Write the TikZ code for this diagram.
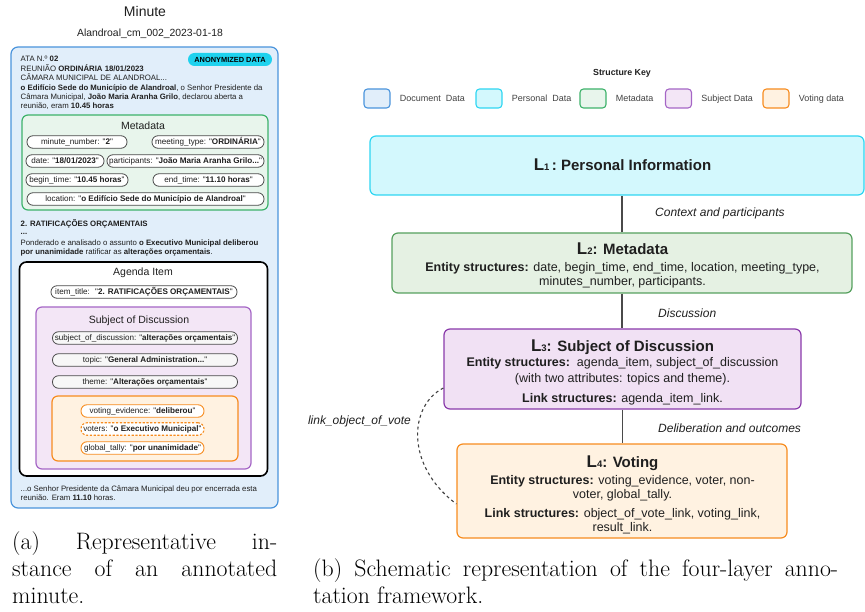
\documentclass[tikz,border=0pt]{standalone}
\usepackage{fontspec}
\newfontfamily\uisans{Liberation Sans}
\usetikzlibrary{calc,positioning}

\definecolor{docfill}{HTML}{E1EEFA}
\definecolor{docline}{HTML}{4A94DC}
\definecolor{perfill}{HTML}{D3F8FD}
\definecolor{perline}{HTML}{2ED6F2}
\definecolor{badgefill}{HTML}{1FD2EE}
\definecolor{metafill}{HTML}{E8F5EC}
\definecolor{metaline}{HTML}{3DB26A}
\definecolor{ltwofill}{HTML}{E5F1E3}
\definecolor{ltwoline}{HTML}{56A05E}
\definecolor{subjfill}{HTML}{F3E6F6}
\definecolor{subjline}{HTML}{A566C6}
\definecolor{lthreefill}{HTML}{F1E1F4}
\definecolor{lthreeline}{HTML}{8A3AAB}
\definecolor{votefill}{HTML}{FFF2E1}
\definecolor{voteline}{HTML}{F78C1F}
\definecolor{pillline}{HTML}{4A4A4A}
\definecolor{pillfill}{HTML}{F7F7F7}
\definecolor{inkcol}{HTML}{1F1F1F}

\newcommand{\fsz}[1]{\fontsize{#1}{#1}\selectfont}
\newcommand{\lnum}[1]{{\fsz{17}L}{\fsz{9.5}#1}}

\tikzset{
  box/.style={draw, rounded corners=6pt, line width=1.2pt, inner sep=0pt},
  keybox/.style={draw, rounded corners=3.5pt, line width=1.1pt, minimum width=26pt, minimum height=19pt},
  keylab/.style={font=\uisans\fsz{9}, text=inkcol!85, inner sep=0pt, anchor=west, text height=6.5pt, text depth=0pt},
  small/.style={font=\uisans\fsz{7.8}, text=inkcol, anchor=base west, inner sep=0pt},
  head/.style={font=\uisans\fsz{10.5}, text=inkcol, anchor=base, inner sep=0pt},
  pill/.style={draw=pillline, fill=pillfill, line width=0.8pt, rounded corners=6pt, minimum height=12.5pt,
    inner sep=0pt, text height=5.9pt, text depth=1.4pt, text=inkcol, font=\uisans\fsz{8.1}},
  votepill/.style={pill, draw=voteline, fill=white, line width=0.9pt},
  ltitle/.style={font=\uisans\bfseries\fsz{15}, text=inkcol, anchor=base, inner sep=0pt},
  lbody/.style={font=\uisans\fsz{12.5}, text=inkcol, anchor=base, inner sep=0pt},
  edgelab/.style={font=\uisans\itshape\fsz{12}, text=inkcol, anchor=base west, inner sep=0pt},
  capline/.style={font=\fsz{23.8}, anchor=base west, inner sep=0pt},
  conn/.style={draw=pillline, line width=1.2pt},
  linkvote/.style={draw=inkcol!85, line width=1.1pt, dash pattern=on 3pt off 3pt}
}

\begin{document}
\begin{tikzpicture}[x=1pt,y=-1pt]
\useasboundingbox (0,0) rectangle (865,612);

% (a) annotated minute
\node[head, font=\uisans\fsz{14}] (mtitle) at (145,17) {Minute};
\node[head, font=\uisans\fsz{10.4}] (mfile) at (150,37) {Alandroal\_cm\_002\_2023-01-18};

\node[box, draw=docline, fill=docfill, rounded corners=7pt, minimum width=267pt, minimum height=461pt] (doc) at (144.5,277.5) {};
\node[fill=badgefill, rounded corners=6.5pt, minimum width=84pt, minimum height=13pt, inner sep=0pt,
  font=\uisans\bfseries\fsz{7.4}, text height=5.3pt, text depth=0pt] (anon) at (230,59.5) {ANONYMIZED DATA};

\node[small] (ata) at (20.5,62) {ATA N.º \textbf{02}};
\node[small] (reun) at (20.5,71.5) {REUNIÃO \textbf{ORDINÁRIA 18/01/2023}};
\node[small] (cam) at (20.5,81) {CÂMARA MUNICIPAL DE ALANDROAL...};
\node[small] (par1) at (20.5,90.3) {\textbf{o Edifício Sede do Município de Alandroal}, o Senhor Presidente da};
\node[small] (par2) at (20.5,99.5) {Câmara Municipal, \textbf{João Maria Aranha Grilo}, declarou aberta a};
\node[small] (par3) at (20.5,108.6) {reunião, eram \textbf{10.45 horas}};

\node[box, draw=metaline, fill=metafill, minimum width=246pt, minimum height=95pt] (meta) at (145,162.5) {};
\node[head] (metattl) at (143,129.8) {Metadata};
\node[pill, fill=white, minimum width=100pt] (pnum) at (77,142) {minute\_number: "\textbf{2}"};
\node[pill, fill=white, minimum width=112pt] (ptype) at (208,142) {meeting\_type: "\textbf{ORDINÁRIA}"};
\node[pill, fill=white, minimum width=78pt] (pdate) at (65,161) {date: "\textbf{18/01/2023}"};
\node[pill, fill=white, minimum width=157pt] (ppart) at (185.5,161) {participants: "\textbf{João Maria Aranha Grilo...}"};
\node[pill, fill=white, minimum width=102pt] (pbegin) at (77,180) {begin\_time: "\textbf{10.45 horas}"};
\node[pill, fill=white, minimum width=111pt] (pend) at (208.5,180) {end\_time: "\textbf{11.10 horas}"};
\node[pill, fill=white, minimum width=237pt] (ploc) at (145.5,199) {location: "\textbf{o Edifício Sede do Município de Alandroal}"};

\node[small] (ratif) at (20.5,226.5) {\textbf{2. RATIFICAÇÕES ORÇAMENTAIS}};
\node[small] (dots) at (20.5,234.5) {\textbf{...}};
\node[small] (pond1) at (20.5,245.5) {Ponderado e analisado o assunto \textbf{o Executivo Municipal deliberou}};
\node[small] (pond2) at (20.5,254.5) {\textbf{por unanimidade} ratificar as \textbf{alterações orçamentais}.};

\node[box, draw=black, fill=white, line width=1.6pt, rounded corners=7pt, minimum width=248pt, minimum height=214pt] (agenda) at (143.5,369) {};
\node[head] (agendattl) at (143,275.8) {Agenda Item};
\node[pill, fill=white, minimum width=186pt] (ptitle) at (144,292) {item\_title: \ "\textbf{2. RATIFICAÇÕES ORÇAMENTAIS}"};

\node[box, draw=subjline, fill=subjfill, minimum width=215pt, minimum height=162pt] (subj) at (143.5,388) {};
\node[head] (subjttl) at (139,323.8) {Subject of Discussion};
\node[pill, minimum width=185pt] (psubj) at (145,338) {subject\_of\_discussion: "\textbf{alterações orçamentais}"};
\node[pill, minimum width=185pt] (ptopic) at (145,360) {topic: "\textbf{General Administration...}"};
\node[pill, minimum width=185pt] (ptheme) at (145,382) {theme: "\textbf{Alterações orçamentais}"};

\node[box, draw=voteline, fill=votefill, minimum width=186pt, minimum height=65pt] (vote) at (145,428.5) {};
\node[votepill, minimum width=123pt] (pevid) at (142.5,411) {voting\_evidence: "\textbf{deliberou}"};
\node[votepill, dash pattern=on 2.2pt off 1.6pt, line width=1.1pt, minimum width=123pt] (pvoters) at (142.5,429) {voters: "\textbf{o Executivo Municipal}"};
\node[votepill, minimum width=123pt] (ptally) at (142.5,448) {global\_tally: "\textbf{por unanimidade}"};

\node[small] (end1) at (20.5,491.5) {...o Senhor Presidente da Câmara Municipal deu por encerrada esta};
\node[small] (end2) at (20.5,500.5) {reunião. Eram \textbf{11.10} horas.};

\node[capline] (capa1) at (12,549) {\makebox[265pt][s]{(a) Representative in-}};
\node[capline] (capa2) at (12,576) {\makebox[265pt][s]{stance of an annotated}};
\node[capline] (capa3) at (12,603) {minute.};

% (b) four layers
\node[head, font=\uisans\bfseries\fsz{8.8}] (keyttl) at (622,75.2) {Structure Key};
\foreach \cx/\kf/\kd/\klab [count=\k] in {377/docfill/docline/{Document~~Data}, 489/perfill/perline/{Personal~~Data},
    593/metafill/metaline/Metadata, 678.5/subjfill/subjline/{Subject Data}, 776/votefill/voteline/{Voting data}}{
  \node[keybox, draw=\kd, fill=\kf] (key\k) at (\cx,98.5) {};
  \node[keylab, right=9pt of key\k] (keylab\k) {\klab};
}

\node[box, draw=perline, fill=perfill, minimum width=494pt, minimum height=59pt] (l1) at (617,165.5) {};
\node[box, draw=ltwoline, fill=ltwofill, minimum width=460pt, minimum height=60pt] (l2) at (622,263) {};
\node[box, draw=lthreeline, fill=lthreefill, minimum width=357pt, minimum height=80pt] (l3) at (622.5,369) {};
\node[box, draw=voteline, fill=votefill, minimum width=330pt, minimum height=94pt] (l4) at (622,491) {};

\node[ltitle] (l1t) at (622.5,170.4) {\lnum{1}\,:\ Personal Information};

\node[ltitle] (l2t) at (622.5,254.4) {\lnum{2}: Metadata};
\node[lbody] (l2a) at (622.5,271.5) {\textbf{Entity structures:} date, begin\_time, end\_time, location, meeting\_type,};
\node[lbody] (l2b) at (622.5,285.5) {minutes\_number, participants.};

\node[ltitle] (l3t) at (622.5,351.4) {\lnum{3}: Subject of Discussion};
\node[lbody] (l3a) at (622.5,366.5) {\textbf{Entity structures:}\ \ agenda\_item, subject\_of\_discussion};
\node[lbody] (l3b) at (622.5,382.5) {(with two attributes: topics and theme).};
\node[lbody] (l3c) at (622.5,402.5) {\textbf{Link structures:} agenda\_item\_link.};

\node[ltitle] (l4t) at (622.5,467.4) {\lnum{4}: Voting};
\node[lbody] (l4a) at (622.5,484.5) {\textbf{Entity structures:} voting\_evidence, voter, non-};
\node[lbody] (l4b) at (622.5,498.5) {voter, global\_tally.};
\node[lbody] (l4c) at (622.5,517.5) {\textbf{Link structures:} object\_of\_vote\_link, voting\_link,};
\node[lbody] (l4d) at (622.5,531.5) {result\_link.};

\draw[conn] (l2.north) -- (l2.north |- l1.south);
\draw[conn] (l2.south) -- (l2.south |- l3.north);
\draw[conn] (l3.south) -- (l3.south |- l4.north);

\node[edgelab] (ctx) at (655,216.3) {Context and participants};
\node[edgelab] (disc) at (658,317.3) {Discussion};
\node[edgelab] (delib) at (658,432.3) {Deliberation and outcomes};
\node[edgelab, anchor=base east] (lov) at (411,424.3) {link\_object\_of\_vote};

\draw[linkvote] ($(l3.west)+(0,19)$) .. controls +(-34,17) and +(-52,-39) .. ($(l4.west)+(0,13)$);

\node[capline] (capb1) at (313,576) {\makebox[525pt][s]{(b) Schematic representation of the four-layer anno-}};
\node[capline] (capb2) at (313,603) {tation framework.};
\end{tikzpicture}
\end{document}
